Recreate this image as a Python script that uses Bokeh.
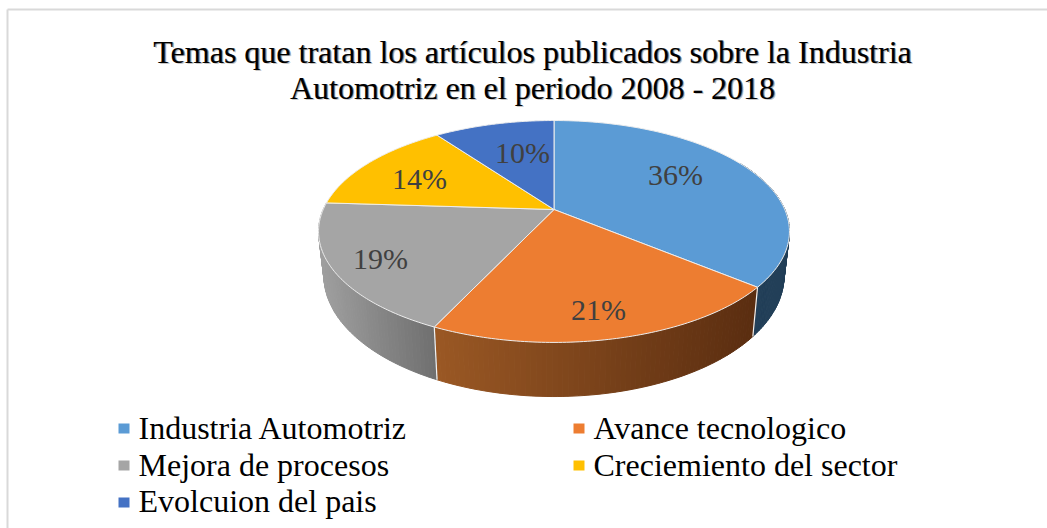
import math
from bokeh.plotting import figure
from bokeh.models import Range1d, ColumnDataSource
from bokeh.core.properties import value
from bokeh.embed import file_html
from bokeh.resources import INLINE

# ---- data ----
title_lines = ["Temas que tratan los artículos publicados sobre la Industria",
               "Automotriz en el periodo 2008 - 2018"]
categories = ["Industria Automotriz", "Avance tecnologico", "Mejora de procesos",
              "Creciemiento del sector", "Evolcuion del pais"]
values = [36, 21, 19, 14, 10]

# ---- styles ----
colors = ["#5B9BD5", "#ED7D31", "#A5A5A5", "#FFC000", "#4472C4"]
# wall gradient (left, right) for each slice seen from the front
wall_colors = [("#223F58", "#223F58"), ("#9A5824", "#5A2D10"), ("#9C9C9C", "#6F6F6F"), None, None]
FONT = value("Liberation Serif")

# ---- projection of the pie's disc on the page ----
CX, CY, R, H, K = 553.5, 209.0, 230.8, 106.6, 0.198
CYB, RB, HB = 251.4, 225.5, 116.0


def top(theta):
    u, v = math.sin(theta), math.cos(theta)
    w = 1 + K * v
    return CX + R * u / w, CY - H * v / w


def bottom(theta):
    u, v = math.sin(theta), math.cos(theta)
    w = 1 + K * v
    return CX + RB * u / w, CYB - HB * v / w


def mix(c1, c2, f):
    a = [int(c1[i:i + 2], 16) for i in (1, 3, 5)]
    b = [int(c2[i:i + 2], 16) for i in (1, 3, 5)]
    return "#%02x%02x%02x" % tuple(round(x + (y - x) * f) for x, y in zip(a, b))


p = figure(width=1047, height=528, output_backend="svg", toolbar_location=None,
           x_range=Range1d(0, 1047), y_range=Range1d(528, 0), min_border=0,
           outline_line_color=None, background_fill_color="white")
p.xaxis.visible = False
p.yaxis.visible = False
p.grid.visible = False

# chart frame
p.line([7, 1047], [9, 9], line_color="#D9D9D9", line_width=2)
p.line([7, 7], [9, 528], line_color="#D9D9D9", line_width=2)

# slice angles
total = sum(values)
edges = [0.0]
for val in values:
    edges.append(edges[-1] + val / total * 2 * math.pi)

# walls: only the part of each slice that faces the viewer
WALL_LIMIT = (math.radians(62), math.radians(302))
for i, wc in enumerate(wall_colors):
    if wc is None:
        continue
    a0, a1 = max(edges[i], WALL_LIMIT[0]), min(edges[i + 1], WALL_LIMIT[1])
    n = 70
    xs, ys, cols = [], [], []
    x_a, x_b = top(a0)[0], top(a1)[0]
    for j in range(n):
        t0 = a0 + (a1 - a0) * j / n
        t1 = a0 + (a1 - a0) * (j + 1) / n
        q = [top(t0), top(t1), bottom(t1), bottom(t0)]
        xs.append([c[0] for c in q])
        ys.append([c[1] for c in q])
        mx = (q[0][0] + q[1][0]) / 2
        f = (mx - min(x_a, x_b)) / abs(x_b - x_a)
        cols.append(mix(wc[0], wc[1], f))
    p.patches(xs, ys, fill_color=cols, line_color=cols, line_width=1)

# white edges between the walls
for e in (edges[1], edges[2]):
    p.line([top(e)[0], bottom(e)[0]], [top(e)[1], bottom(e)[1]], line_color="#F2F2F2", line_width=1.2)

# top faces
for i in range(len(values)):
    n = 90
    arc = [top(edges[i] + (edges[i + 1] - edges[i]) * j / n) for j in range(n + 1)]
    p.patch([CX] + [c[0] for c in arc], [CY] + [c[1] for c in arc],
            fill_color=colors[i], line_color="#EDEDED", line_width=1)

# data labels
label_pos = [(675, 174), (598, 309), (380, 258), (419, 178), (522, 152)]
lab = ColumnDataSource(dict(x=[c[0] for c in label_pos], y=[c[1] for c in label_pos],
                            t=["%d%%" % v for v in values]))
p.text("x", "y", "t", source=lab, text_font=FONT, text_font_size="30px", text_color="#404040",
       text_align="center", text_baseline="middle")

# title with its soft shadow
title_y = [51, 87]
for dx, alpha, col in ((1.6, 0.22, "#000000"), (0.9, 0.4, "#000000"), (0, 1, "#000000")):
    p.text([532 + dx] * 2, [y + dx for y in title_y], title_lines, text_font=FONT, text_font_size="32px",
           text_color=col, text_alpha=alpha, text_align="center", text_baseline="alphabetic")

# legend
leg_x = [118, 573, 118, 573, 118]
box_y = [428, 428, 465, 465, 502]
text_y = [427, 427, 464, 464, 500]
p.rect([x + 5.5 for x in leg_x], box_y, width=11, height=10, fill_color=colors, line_color=None)
p.text([x + 20 for x in leg_x], text_y, categories, text_font=FONT, text_font_size="32px",
       text_color="#000000", text_align="left", text_baseline="alphabetic")

open("out.html", "w").write(file_html(p, INLINE))
